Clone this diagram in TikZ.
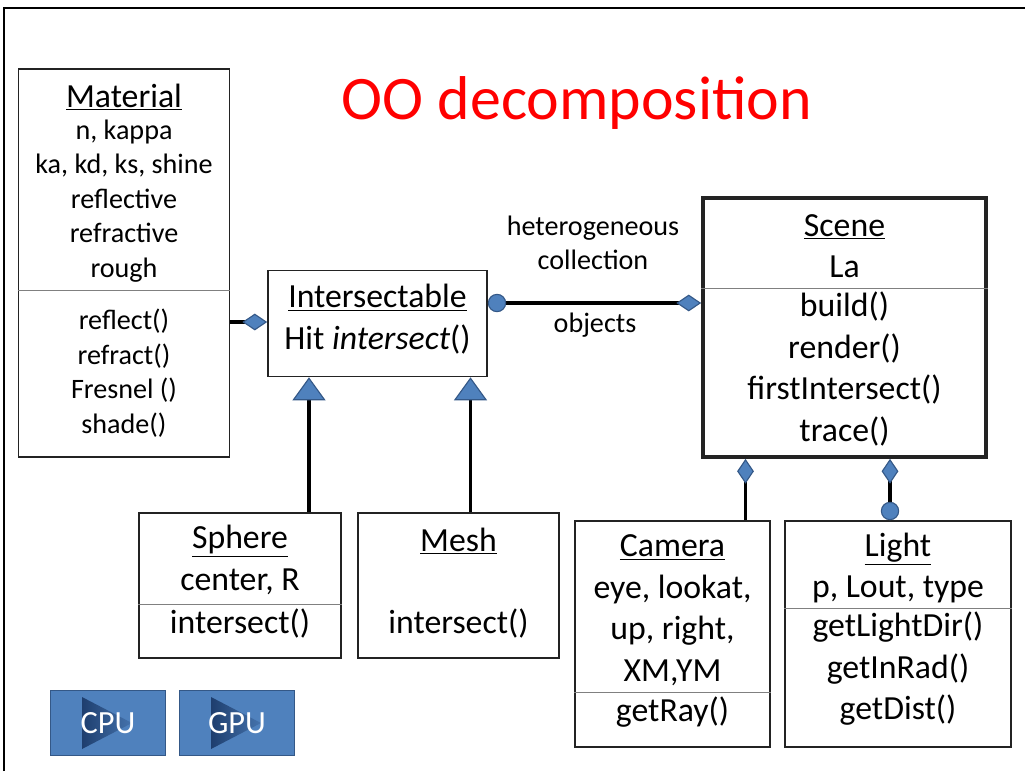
\documentclass[tikz,border=0pt]{standalone}
\usepackage{fontspec}
\setmainfont{Carlito}
\usepackage{tikz}
\usetikzlibrary{arrows.meta, calc}
\definecolor{umlblue}{RGB}{79,129,189}
\definecolor{umledge}{RGB}{52,88,135}
\definecolor{playdark}{RGB}{30,62,110}
\definecolor{titlered}{RGB}{255,0,0}
\definecolor{boxline}{RGB}{35,35,35}
\newcommand{\bodyfont}{\fontsize{24}{29.5}\selectfont}
\newcommand{\smallbody}{\fontsize{20}{24.5}\selectfont}
\tikzset{
  classbox/.style={draw=boxline, line width=1.1pt, inner sep=0pt},
  scenebox/.style={classbox, line width=2.6pt},
  divider/.style={draw=gray, line width=0.6pt},
  members/.style={font=\bodyfont, align=center, inner sep=0pt},
  matmembers/.style={font=\smallbody, align=center, inner sep=0pt},
  note/.style={font=\smallbody, align=center, inner sep=0pt},
  link/.style={draw=black, line width=2.8pt},
  has/.style={link, -{Diamond[length=0.62cm, width=0.42cm, fill=umlblue, color=umledge, line width=0.8pt]}},
  holds/.style={link, {Circle[length=0.46cm, fill=umlblue, color=umledge, line width=0.8pt]}-{Diamond[length=0.62cm, width=0.42cm, fill=umlblue, color=umledge, line width=0.8pt]}},
  isa/.style={link, -{Triangle[length=0.575cm, width=0.825cm, fill=umlblue, color=umledge, line width=0.8pt]}},
  slidetitle/.style={font=\fontsize{44}{53}\selectfont, text=titlered, inner sep=0pt},
  button/.style={draw=umledge, line width=1.2pt, fill=umlblue, minimum width=2.875cm, minimum height=1.625cm},
  buttontext/.style={font=\fontsize{23}{27}\selectfont, text=white, inner sep=0pt},
  playmark/.style={left color=playdark, right color=umlblue!80!playdark},
  frame/.style={draw=black, line width=2pt},
}

\begin{document}
\begin{tikzpicture}[x=0.025cm, y=-0.025cm]
  \useasboundingbox (0,0) rectangle (1025,771);
  \draw[frame] (4,771) -- (4,8) -- (1025,8);

  \node[slidetitle] (title) at (577,103) {OO decomposition};

  % classes
  \node[classbox, minimum width=5.275cm, minimum height=9.7cm] (material) at (124,263) {};
  \node[members] (mathead) at (124,97) {\underline{Material}};
  \node[matmembers] (matattr) at (124,201) {n, kappa\\ka, kd, ks, shine\\reflective\\refractive\\rough};
  \node[matmembers] (matops) at (124,373) {reflect()\\refract()\\Fresnel ()\\shade()};
  \draw[divider] (material.west |- 0,290) -- (material.east |- 0,290);

  \node[classbox, minimum width=5.475cm, minimum height=2.65cm] (intersect) at (377.5,323.5) {};
  \node[members] (intersecttext) at (377.5,319) {\underline{Intersectable}\\Hit \textit{intersect}()};

  \node[scenebox, minimum width=7.075cm, minimum height=6.475cm] (scene) at (844.5,327.5) {};
  \node[members] (sceneattr) at (844.5,246) {\underline{Scene}\\La};
  \node[members] (sceneops) at (844.5,369) {build()\\render()\\firstIntersect()\\trace()};
  \draw[divider] (scene.west |- 0,288) -- (scene.east |- 0,288);

  \node[classbox, minimum width=5.05cm, minimum height=3.625cm] (sphere) at (240,585.5) {};
  \node[members] (sphereattr) at (240,560) {\underline{Sphere}\\center, R};
  \node[members] (sphereops) at (240,623) {intersect()};
  \draw[divider] (sphere.west |- 0,604) -- (sphere.east |- 0,604);

  \node[classbox, minimum width=5.025cm, minimum height=3.625cm] (mesh) at (458.5,585.5) {};
  \node[members] (meshhead) at (458.5,541) {\underline{Mesh}};
  \node[members] (meshops) at (458.5,623) {intersect()};

  \node[classbox, minimum width=4.875cm, minimum height=5.65cm] (camera) at (672.5,634) {};
  \node[members] (cameraattr) at (672.5,610) {\underline{Camera}\\eye, lookat,\\up, right,\\XM,YM};
  \node[members] (cameraops) at (672.5,712) {getRay()};
  \draw[divider] (camera.west |- 0,692) -- (camera.east |- 0,692);

  \node[classbox, minimum width=5.65cm, minimum height=5.65cm] (light) at (898,634) {};
  \node[members] (lightattr) at (898,568) {\underline{Light}\\p, Lout, type};
  \node[members] (lightops) at (898,669) {getLightDir()\\getInRad()\\getDist()};
  \draw[divider] (light.west |- 0,608) -- (light.east |- 0,608);

  % associations
  \draw[has] (material.east |- 0,322) -- (intersect.west |- 0,322);
  \draw[holds] (intersect.east |- 0,303) -- (scene.west |- 0,303);
  \node[note] (hetero) at (593,243) {heterogeneous\\collection};
  \node[note] (objects) at (595,325) {objects};

  \draw[isa] (sphere.north -| 309,0) -- (intersect.south -| 309,0);
  \draw[isa] (mesh.north -| 470.5,0) -- (intersect.south -| 470.5,0);
  \draw[has] (camera.north -| 745.5,0) -- (scene.south -| 745.5,0);
  \draw[holds] (light.north -| 890,0) -- (scene.south -| 890,0);

  % buttons
  \node[button] (cpu) at (108,723) {};
  \shade[playmark] ($(cpu.center)+(-26,-26)$) -- ($(cpu.center)+(24,0)$) -- ($(cpu.center)+(-26,26)$) -- cycle;
  \node[buttontext] (cputext) at (cpu) {CPU};
  \node[button] (gpu) at (237,723) {};
  \shade[playmark] ($(gpu.center)+(-26,-26)$) -- ($(gpu.center)+(24,0)$) -- ($(gpu.center)+(-26,26)$) -- cycle;
  \node[buttontext] (gputext) at (gpu) {GPU};
\end{tikzpicture}
\end{document}
